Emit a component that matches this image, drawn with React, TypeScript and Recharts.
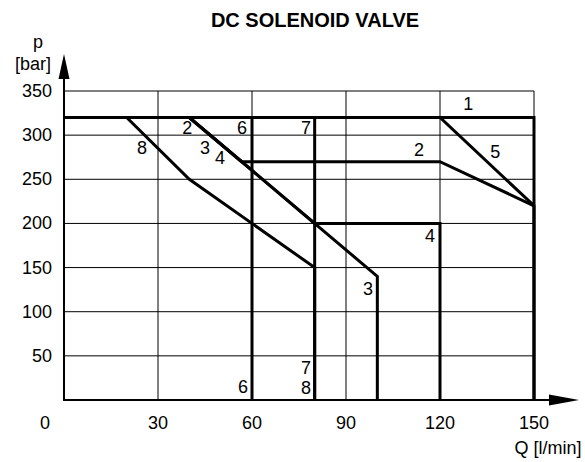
import React from 'react';
import { CartesianGrid, ComposedChart, Line, Scatter, XAxis, YAxis } from 'recharts';

type Pt = { q: number; p: number };

// limit curves, Q [l/min] vs p [bar]
const curve1: Pt[] = [{ q: 0, p: 320 }, { q: 150, p: 320 }, { q: 150, p: 0 }];
const curve2: Pt[] = [{ q: 0, p: 320 }, { q: 40, p: 320 }, { q: 56.7, p: 270 }, { q: 120, p: 270 }, { q: 150, p: 220 }];
const curve3: Pt[] = [{ q: 0, p: 320 }, { q: 40, p: 320 }, { q: 100, p: 140 }, { q: 100, p: 0 }];
const curve4: Pt[] = [{ q: 0, p: 320 }, { q: 40, p: 320 }, { q: 80, p: 200 }, { q: 120, p: 200 }, { q: 120, p: 0 }];
const curve5: Pt[] = [{ q: 0, p: 320 }, { q: 120, p: 320 }, { q: 150, p: 220 }, { q: 150, p: 0 }];
const curve6: Pt[] = [{ q: 0, p: 320 }, { q: 60, p: 320 }, { q: 60, p: 0 }];
const curve7: Pt[] = [{ q: 0, p: 320 }, { q: 80, p: 320 }, { q: 80, p: 0 }];
const curve8: Pt[] = [{ q: 0, p: 320 }, { q: 20, p: 320 }, { q: 40, p: 250 }, { q: 80, p: 150 }, { q: 80, p: 0 }];

const curves = [curve1, curve2, curve3, curve4, curve5, curve6, curve7, curve8];

const curveLabels = [
  { q: 129, p: 335, text: '1' },
  { q: 113.3, p: 283, text: '2' },
  { q: 137.6, p: 281, text: '5' },
  { q: 116.8, p: 186, text: '4' },
  { q: 97, p: 126, text: '3' },
  { q: 39.3, p: 308, text: '2' },
  { q: 56.8, p: 308, text: '6' },
  { q: 77.2, p: 308, text: '7' },
  { q: 24.9, p: 285, text: '8' },
  { q: 45, p: 286, text: '3' },
  { q: 49.8, p: 274, text: '4' },
  { q: 77.2, p: 36, text: '7' },
  { q: 77.2, p: 14, text: '8' },
  { q: 57.1, p: 15, text: '6' },
];

const xTicks = [0, 30, 60, 90, 120, 150];
const yTicks = [0, 50, 100, 150, 200, 250, 300, 350];

const W = 585;
const H = 462;
const LEFT = 64;
const TOP = 91;
const RIGHT = 534;
const BOTTOM = 400;

const FONT = '"Liberation Sans", Arial, sans-serif';

const Txt = ({ x, y, children, size = 18, anchor = 'middle', bold = false }: any) => (
  <text
    x={x}
    y={y}
    textAnchor={anchor}
    dominantBaseline="central"
    fontFamily={FONT}
    fontSize={size}
    fontWeight={bold ? 'bold' : 'normal'}
    fill="#000"
  >
    {children}
  </text>
);

const XTick = (props: any) => {
  const { x, y, payload } = props;
  const dx = payload.value === 0 ? -19 : 0;
  return <Txt x={x + dx} y={y + 23}>{payload.value}</Txt>;
};

const YTick = (props: any) => {
  const { x, y, payload } = props;
  if (payload.value === 0) return <g />;
  return <Txt x={x - 12} y={y} anchor="end">{payload.value}</Txt>;
};

const LabelShape = (props: any) => {
  const { cx, cy, payload } = props;
  return <Txt x={cx} y={cy}>{payload.text}</Txt>;
};

export default function App() {
  return (
    <div style={{ position: 'absolute', left: 0, top: 0, width: W, height: H, background: '#fff' }}>
      <ComposedChart
        width={W}
        height={H}
        margin={{ top: TOP, right: W - RIGHT, left: 0, bottom: H - BOTTOM - 30 }}
      >
        <CartesianGrid stroke="#000" strokeWidth={1} />
        <XAxis
          type="number"
          dataKey="q"
          domain={[0, 150]}
          ticks={xTicks}
          height={30}
          axisLine={false}
          tickLine={false}
          tickSize={0}
          tickMargin={0}
          tick={<XTick />}
        />
        <YAxis
          type="number"
          dataKey="p"
          domain={[0, 350]}
          ticks={yTicks}
          width={LEFT}
          axisLine={false}
          tickLine={false}
          tickSize={0}
          tickMargin={0}
          tick={<YTick />}
        />
        {curves.map((c, i) => (
          <Line
            key={i}
            data={c}
            dataKey="p"
            type="linear"
            stroke="#000"
            strokeWidth={3}
            dot={false}
            activeDot={false}
            isAnimationActive={false}
          />
        ))}
        <Scatter data={curveLabels} dataKey="p" shape={<LabelShape />} isAnimationActive={false} />
      </ComposedChart>
      <svg width={W} height={H} style={{ position: 'absolute', left: 0, top: 0, pointerEvents: 'none' }}>
        <Txt x={315} y={20} size={20} bold>DC SOLENOID VALVE</Txt>
        <Txt x={38} y={42}>p</Txt>
        <Txt x={33} y={64}>[bar]</Txt>
        <Txt x={548} y={448}>Q [l/min]</Txt>
        <line x1={LEFT} y1={BOTTOM} x2={LEFT} y2={72} stroke="#000" strokeWidth={2} />
        <polygon points={`${LEFT},54 ${LEFT - 5.5},79 ${LEFT + 5.5},79`} fill="#000" />
        <line x1={LEFT - 1} y1={BOTTOM} x2={556} y2={BOTTOM} stroke="#000" strokeWidth={2} />
        <polygon points={`579,${BOTTOM} 549,${BOTTOM - 5.5} 549,${BOTTOM + 5.5}`} fill="#000" />
      </svg>
    </div>
  );
}
